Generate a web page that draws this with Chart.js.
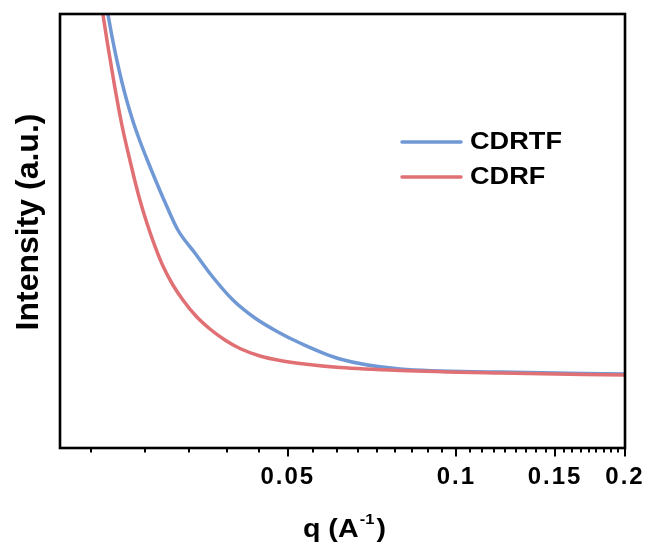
<!DOCTYPE html>
<html>
<head>
<meta charset="utf-8">
<script src="https://cdn.jsdelivr.net/npm/chart.js@4.4.1/dist/chart.umd.min.js"></script>
<style>
html,body{margin:0;padding:0;background:#fff;}
#wrap{width:649px;height:544px;}
</style>
</head>
<body>
<div id="wrap"><canvas id="c" width="649" height="544"></canvas></div>
<script>
// ---- data ----
const seriesNames = ['CDRTF', 'CDRF'];
const qCDRTF = [0.023864,0.024262,0.024766,0.02528,0.025804,0.026448,0.02722,0.028014,0.02907,0.030166,0.031822,0.034128,0.036604,0.039905,0.043684,0.04802,0.052562,0.061954,0.079318,0.11959,0.2];
const iCDRTF = [100,94.93,89.29,84.33,79.95,75.35,70.74,66.59,61.52,56.68,50.23,44.93,39.63,34.10,29.95,26.73,24.19,20.51,18.20,17.51,17.05];
const qCDRF = [0.02338,0.02377,0.024164,0.024566,0.024974,0.025388,0.025916,0.02656,0.02722,0.028014,0.028952,0.030044,0.031178,0.032486,0.034274,0.036306,0.038614,0.04107,0.04459,0.04842,0.052562,0.061954,0.079318,0.11959,0.2];
const iCDRF = [100,94.01,88.48,82.95,77.88,73.27,68.20,62.44,57.14,51.84,46.54,41.47,37.56,34.10,30.41,27.42,24.88,22.93,21.20,20.16,19.47,18.55,17.86,17.28,16.82];
const majorTicks = [0.05, 0.1, 0.15, 0.2];
const majorLabels = ['0.05', '0.1', '0.15', '0.2'];
const minorTicks = [0.02222,0.02778,0.03333,0.03889,0.04444,
  0.05556,0.06111,0.06667,0.07222,0.07778,0.08333,0.08889,0.09444,
  0.10556,0.11111,0.11667,0.12222,0.12778,0.13333,0.13889,0.14444,
  0.15556,0.16111,0.16667,0.17222,0.17778,0.18333,0.18889,0.19444];
const xMin = 0.0196, xMax = 0.2;
const yMin = 0, yMax = 100;
const xTitleMain = 'q (A', xTitleSup = '-1', xTitleEnd = ')';
const yTitle = 'Intensity (a.u.)';

const FONT = '"Liberation Sans", Arial, Helvetica, sans-serif';
const BLUE = 'rgb(112,152,213)';
const RED = 'rgb(224,112,116)';
const STRETCH = 1.18;

const toPts = (xs, ys) => xs.map((x, i) => ({x: x, y: ys[i]}));

const spacing = {
  id: 'spacing',
  beforeDraw(chart) { chart.ctx.letterSpacing = '2px'; },
  beforeDatasetsDraw(chart) { chart.ctx.letterSpacing = '0px'; }
};

const decor = {
  id: 'decor',
  afterDraw(chart) {
    const ctx = chart.ctx;
    ctx.letterSpacing = '0px';
    const a = chart.chartArea;
    const xs = chart.scales.x;
    ctx.save();
    // frame
    ctx.strokeStyle = '#000';
    ctx.lineWidth = 2.6;
    ctx.strokeRect(a.left, a.top, a.right - a.left, a.bottom - a.top);
    // tick marks
    ctx.lineWidth = 2;
    const drawTick = (v, len) => {
      const px = Math.round(xs.getPixelForValue(v));
      ctx.beginPath();
      ctx.moveTo(px, a.bottom);
      ctx.lineTo(px, a.bottom + len);
      ctx.stroke();
    };
    minorTicks.forEach(v => drawTick(v, 4.5));
    majorTicks.forEach(v => drawTick(v, 8.5));
    // x title with superscript (slightly widened like the reference)
    ctx.fillStyle = '#000';
    ctx.textBaseline = 'alphabetic';
    ctx.textAlign = 'left';
    const cx = (a.left + a.right) / 2;
    const big = 'bold 26px ' + FONT, small = 'bold 15px ' + FONT;
    ctx.font = big; const w1 = ctx.measureText(xTitleMain).width; const w3 = ctx.measureText(xTitleEnd).width;
    ctx.font = small; const w2 = ctx.measureText(xTitleSup).width;
    const total = (w1 + w2 + w3 + 3) * 1.1;
    ctx.save();
    ctx.translate(cx - total / 2 + 2, 537);
    ctx.scale(1.1, 1);
    ctx.font = big; ctx.fillText(xTitleMain, 0, 0);
    ctx.font = small; ctx.fillText(xTitleSup, w1 + 1, -13);
    ctx.font = big; ctx.fillText(xTitleEnd, w1 + w2 + 3, 0);
    ctx.restore();
    // y title
    ctx.save();
    ctx.translate(28, 222);
    ctx.rotate(-Math.PI / 2);
    ctx.textAlign = 'center';
    ctx.textBaseline = 'middle';
    ctx.font = 'bold 32px ' + FONT;
    ctx.fillText(yTitle, 0, 1);
    ctx.restore();
    // legend
    const ds = chart.data.datasets;
    const legY = [142, 177];
    ds.forEach((d, i) => {
      ctx.strokeStyle = d.borderColor;
      ctx.lineWidth = 3.5;
      ctx.lineCap = 'round';
      ctx.beginPath();
      ctx.moveTo(402, legY[i]);
      ctx.lineTo(461, legY[i]);
      ctx.stroke();
      ctx.save();
      ctx.translate(470, legY[i] + 1);
      ctx.scale(STRETCH, 1);
      ctx.fillStyle = '#000';
      ctx.font = 'bold 23px ' + FONT;
      ctx.textAlign = 'left';
      ctx.textBaseline = 'middle';
      ctx.fillText(d.label, 0, 0);
      ctx.restore();
    });
    ctx.restore();
  }
};

new Chart(document.getElementById('c'), {
  type: 'line',
  data: {
    datasets: [
      { label: seriesNames[0], data: toPts(qCDRTF, iCDRTF), borderColor: BLUE, borderWidth: 3.5,
        pointRadius: 0, cubicInterpolationMode: 'monotone', fill: false, order: 1 },
      { label: seriesNames[1], data: toPts(qCDRF, iCDRF), borderColor: RED, borderWidth: 3.5,
        pointRadius: 0, cubicInterpolationMode: 'monotone', fill: false, order: 0 }
    ]
  },
  options: {
    responsive: false,
    animation: false,
    devicePixelRatio: 1,
    layout: { padding: { top: 14, right: 24, left: 0, bottom: 0 } },
    plugins: { legend: { display: false }, tooltip: { enabled: false } },
    scales: {
      x: {
        type: 'logarithmic',
        min: xMin, max: xMax,
        afterBuildTicks(scale) {
          scale.ticks = majorTicks.concat(minorTicks).sort((p, q) => p - q).map(v => ({ value: v }));
        },
        afterFit(scale) { scale.height = 96; scale.paddingLeft = 0; scale.paddingRight = 0; },
        grid: { display: false, drawTicks: false },
        border: { display: false },
        ticks: {
          autoSkip: false, maxRotation: 0, minRotation: 0, padding: 15,
          color: '#000',
          font: { family: FONT, size: 24, weight: 'bold' },
          callback(value) {
            const k = majorTicks.findIndex(m => Math.abs(m - value) < 1e-9);
            return k >= 0 ? majorLabels[k] : '';
          }
        }
      },
      y: {
        type: 'linear', min: yMin, max: yMax,
        afterFit(scale) { scale.width = 60; },
        grid: { display: false, drawTicks: false },
        border: { display: false },
        ticks: { display: false }
      }
    }
  },
  plugins: [spacing, decor]
});
</script>
</body>
</html>
